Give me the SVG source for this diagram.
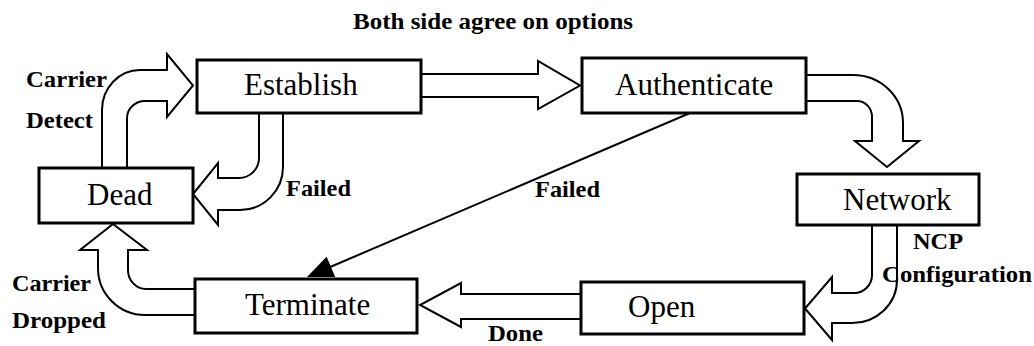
<svg xmlns="http://www.w3.org/2000/svg" width="1034" height="346" viewBox="0 0 1034 346">
<style>
.box{fill:#fff;stroke:#000;stroke-width:3}
.blk{fill:#fff;stroke:#000;stroke-width:2;stroke-linejoin:miter}
.ln{fill:none;stroke:#000;stroke-width:2}
.nt{font-family:"Liberation Serif","Times New Roman",serif;font-size:31px;fill:#000}
.lb{font-family:"Liberation Serif","Times New Roman",serif;font-size:23px;font-weight:bold;fill:#000}
</style>
<rect width="1034" height="346" fill="#fff"/>
<text class="lb" x="353" y="29" textLength="280" lengthAdjust="spacingAndGlyphs">Both side agree on options</text>
<g id="connectors">
  <path class="blk" d="M421,74 H538 V61 L580,85.5 L538,109 V97 H421"/>
  <path class="blk" d="M806,75 H853 A50,48 0 0 1 903,123 V141 H919 L887,167 L855,141 H872 V117 A15,16 0 0 0 857,101 H806"/>
  <path class="blk" d="M872,225 V275 A18,18 0 0 1 854,293 H832 V277 L805,308.5 L832,340 V323 H852 A45,43 0 0 0 897,280 V225"/>
  <path class="blk" d="M581,294 H461 V283 L420,305 L461,327 V319 H581"/>
  <path class="blk" d="M195,289 H146 A18,19 0 0 1 128,270 V250 H147 L113,224 L80,250 H98 V268 A47,47 0 0 0 145,315 H195"/>
  <path class="blk" d="M102,168 V110 A38,40 0 0 1 140,70 H167 V54 L193,85.5 L167,117 V101 H145 A18,17 0 0 0 127,118 V168"/>
  <path class="blk" d="M259,113 V158 A20,20 0 0 1 239,178 H218 V163 L193,194 L218,225 V210 H240 A43,43 0 0 0 283,167 V113"/>
  <line class="ln" x1="690" y1="113" x2="329" y2="267.5"/>
  <polygon points="307,277 335.2,276.9 326.6,256.7" fill="#000"/>
  <text class="lb" x="26" y="87" textLength="81" lengthAdjust="spacingAndGlyphs">Carrier</text>
  <text class="lb" x="26" y="128" textLength="67" lengthAdjust="spacingAndGlyphs">Detect</text>
  <text class="lb" x="286" y="196" textLength="65" lengthAdjust="spacingAndGlyphs">Failed</text>
  <text class="lb" x="535" y="197" textLength="65" lengthAdjust="spacingAndGlyphs">Failed</text>
  <text class="lb" x="12" y="291" textLength="79" lengthAdjust="spacingAndGlyphs">Carrier</text>
  <text class="lb" x="12" y="328" textLength="94" lengthAdjust="spacingAndGlyphs">Dropped</text>
  <text class="lb" x="913" y="249" textLength="50" lengthAdjust="spacingAndGlyphs">NCP</text>
  <text class="lb" x="882" y="282" textLength="150" lengthAdjust="spacingAndGlyphs">Configuration</text>
  <text class="lb" x="488" y="341" textLength="55" lengthAdjust="spacingAndGlyphs">Done</text>
</g>
<g id="establish"><rect class="box" x="197" y="60" width="224" height="53"/><text class="nt" x="244" y="95">Establish</text></g>
<g id="authenticate"><rect class="box" x="582" y="58" width="224" height="55"/><text class="nt" x="615" y="95">Authenticate</text></g>
<g id="network"><rect class="box" x="797" y="174" width="182" height="51"/><text class="nt" x="843" y="210">Network</text></g>
<g id="open"><rect class="box" x="581" y="282" width="223" height="52"/><text class="nt" x="628" y="317">Open</text></g>
<g id="terminate"><rect class="box" x="195" y="279" width="222" height="54"/><text class="nt" x="245" y="315">Terminate</text></g>
<g id="dead"><rect class="box" x="39" y="168" width="154" height="55"/><text class="nt" x="87" y="205">Dead</text></g>
</svg>
